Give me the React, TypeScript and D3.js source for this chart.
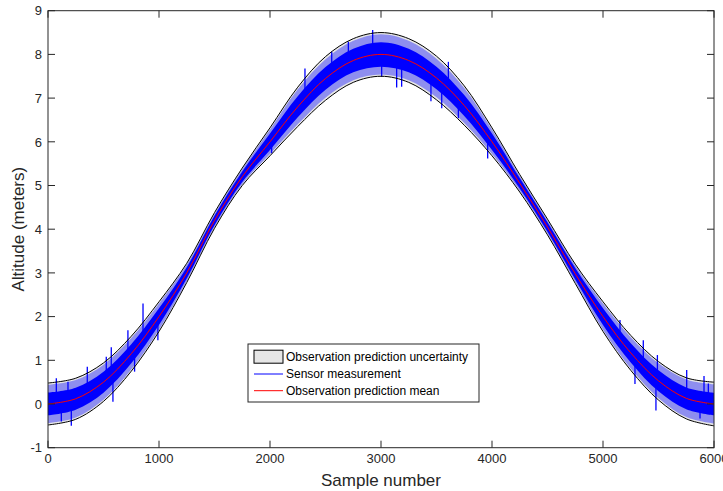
import React from "react";
import * as d3 from "d3";

// ---- data ----
const samples = [0, 250, 500, 750, 1000, 1250, 1500, 1750, 2000, 2250, 2500, 2750, 3000,
  3250, 3500, 3750, 4000, 4250, 4500, 4750, 5000, 5250, 5500, 5750, 6000];
const predMean = [0, 0.12, 0.5, 1.15, 2.0, 3.0, 4.2, 5.2, 6.0, 6.8, 7.45, 7.86, 8.0,
  7.86, 7.46, 6.83, 6.0, 5.05, 4.05, 2.98, 2.0, 1.17, 0.53, 0.13, 0];
const uncertHalf = [0.48, 0.47, 0.44, 0.4, 0.34, 0.22, 0.18, 0.2, 0.32, 0.45, 0.5, 0.5, 0.5,
  0.5, 0.5, 0.45, 0.32, 0.2, 0.18, 0.22, 0.34, 0.4, 0.44, 0.47, 0.5];
// dense core of the sensor readings (half-width around the mean)
const sensorCore = [0.26, 0.25, 0.24, 0.22, 0.19, 0.13, 0.11, 0.12, 0.19, 0.24, 0.26, 0.27, 0.28,
  0.27, 0.26, 0.24, 0.19, 0.12, 0.11, 0.13, 0.19, 0.22, 0.24, 0.25, 0.26];
// sparse outer spread of the sensor readings
const sensorSpread = [0.44, 0.43, 0.4, 0.36, 0.3, 0.19, 0.15, 0.17, 0.28, 0.4, 0.44, 0.45, 0.46,
  0.45, 0.44, 0.4, 0.28, 0.17, 0.15, 0.19, 0.3, 0.36, 0.4, 0.43, 0.45];
// notable sensor spikes: [sample, value]
const spikeSamples = [75, 120, 180, 210, 354, 525, 570, 585, 720, 780, 856, 990,
  2015, 2315, 2556, 2706, 2925, 3006, 3141, 3186, 3450, 3547, 3607, 3697, 3961,
  5153, 5288, 5363, 5477, 5490, 5754, 5874, 5910, 5949];
const spikeValues = [0.59, -0.4, 0.51, -0.5, 0.85, 1.08, 1.3, 0.05, 1.69, 0.74, 2.3, 1.46,
  5.74, 7.68, 8.06, 8.29, 8.56, 7.49, 7.24, 7.26, 6.93, 6.77, 7.83, 6.54, 5.62,
  1.92, 0.46, 1.46, -0.15, 1.12, 0.78, -0.33, 0.64, 0.47];
const xTicks = [0, 1000, 2000, 3000, 4000, 5000, 6000];
const yTicks = [-1, 0, 1, 2, 3, 4, 5, 6, 7, 8, 9];
const legendLabels = ["Observation prediction uncertainty", "Sensor measurement", "Observation prediction mean"];

const W = 723, H = 491;
const L = 48, R = 714, T = 10.7, B = 447.7;
const AX = "#262626";
const FONT = "'Liberation Sans', Arial, Helvetica, sans-serif";

export default function App() {
  const x = d3.scaleLinear().domain([0, 6000]).range([L, R]);
  const y = d3.scaleLinear().domain([-1, 9]).range([B, T]);
  const idx = d3.range(samples.length);
  const curve = d3.curveCatmullRom.alpha(0.5);

  const ribbon = (half: number[]) => d3.area<number>().x(i => x(samples[i]))
    .y0(i => y(predMean[i] - half[i])).y1(i => y(predMean[i] + half[i])).curve(curve)(idx)!;
  const edge = (sign: number) => d3.line<number>().x(i => x(samples[i]))
    .y(i => y(predMean[i] + sign * uncertHalf[i])).curve(curve)(idx)!;
  const meanLine = d3.line<number>().x(i => x(samples[i])).y(i => y(predMean[i])).curve(curve)(idx)!;
  const meanAt = (s: number) => {
    const j = Math.min(samples.length - 2, Math.floor(s / 250));
    const t = (s - samples[j]) / 250;
    return predMean[j] * (1 - t) + predMean[j + 1] * t;
  };

  const lx = 248, ly = 344, lw = 231, lh = 58;
  const rows = [356.7, 374, 390.7];

  return (
    <svg width={W} height={H} style={{ position: "absolute", left: 0, top: 0, background: "#fff" }}
      fontFamily={FONT}>
      <rect x={0} y={0} width={W} height={H} fill="#fff" />
      <path d={ribbon(uncertHalf)} fill="#e6e6e6" stroke="none" />
      <path d={ribbon(sensorSpread)} fill="#0000ff" fillOpacity={0.38} />
      <path d={ribbon(sensorCore)} fill="#0000ff" />
      {spikeSamples.map((s, i) => (
        <line key={i} x1={x(s)} x2={x(s)} y1={y(meanAt(s))} y2={y(spikeValues[i])} stroke="#0000ff" strokeWidth={1.3} />
      ))}
      <path d={edge(1)} fill="none" stroke="#000" strokeWidth={1} />
      <path d={edge(-1)} fill="none" stroke="#000" strokeWidth={1} />
      <path d={meanLine} fill="none" stroke="#ff0000" strokeWidth={1} />

      {/* axes box */}
      <rect x={L} y={T} width={R - L} height={B - T} fill="none" stroke={AX} strokeWidth={1} />
      {xTicks.map(t => (
        <g key={"x" + t}>
          <line x1={x(t)} x2={x(t)} y1={B} y2={B - 7} stroke={AX} />
          <line x1={x(t)} x2={x(t)} y1={T} y2={T + 7} stroke={AX} />
          <text x={x(t)} y={463} textAnchor="middle" fontSize={13} fill={AX}>{t}</text>
        </g>
      ))}
      {yTicks.map(t => (
        <g key={"y" + t}>
          <line x1={L} x2={L + 7} y1={y(t)} y2={y(t)} stroke={AX} />
          <line x1={R} x2={R - 7} y1={y(t)} y2={y(t)} stroke={AX} />
          <text x={42} y={y(t) + 4.7} textAnchor="end" fontSize={13} fill={AX}>{t}</text>
        </g>
      ))}
      <text x={(L + R) / 2} y={486} textAnchor="middle" fontSize={17} fill={AX}>Sample number</text>
      <text transform={`translate(24,${(T + B) / 2}) rotate(-90)`} textAnchor="middle" fontSize={17} fill={AX}>Altitude (meters)</text>

      {/* legend */}
      <rect x={lx} y={ly} width={lw} height={lh} fill="#fff" stroke={AX} strokeWidth={1} />
      <rect x={254} y={rows[0] - 6.5} width={29} height={13} fill="#e6e6e6" stroke="#000" strokeWidth={1} />
      <line x1={254} x2={283} y1={rows[1]} y2={rows[1]} stroke="#0000ff" />
      <line x1={254} x2={283} y1={rows[2]} y2={rows[2]} stroke="#ff0000" />
      {legendLabels.map((t, i) => (
        <text key={t} x={286} y={rows[i] + 4.3} fontSize={12} fill="#000">{t}</text>
      ))}
    </svg>
  );
}
